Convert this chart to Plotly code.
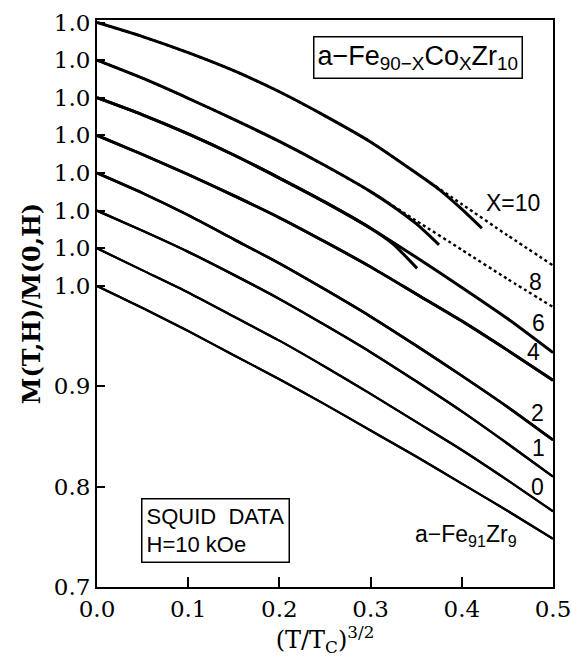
import plotly.graph_objects as go

# x values: (T/Tc)^(3/2)
T32 = [0.0, 0.05, 0.10, 0.15, 0.20, 0.25, 0.30, 0.35, 0.40, 0.45, 0.50]

# Co content x of each curve (top to bottom); last curve is a-Fe91Zr9
CURVE_NAMES = ["x=10", "x=8", "x=6", "x=4", "x=2", "x=1", "x=0", "a-Fe91Zr9"]
CURVE_LABELS = ["X=10", "8", "6", "4", "2", "1", "0", "a\u2212Fe<sub>91</sub>Zr<sub>9</sub>"]

# Measured M(T,H)/M(0,H) (SQUID data) for each curve
M_DATA = [
    [1.000, 0.986, 0.970, 0.952, 0.931, 0.907, 0.881, 0.850, 0.819, 0.788, 0.758],  # x=10
    [1.000, 0.982, 0.962, 0.941, 0.919, 0.895, 0.869, 0.840, 0.811, 0.782, 0.754],  # x=8
    [1.000, 0.983, 0.964, 0.943, 0.920, 0.896, 0.870, 0.841, 0.811, 0.780, 0.746],  # x=6
    [1.000, 0.981, 0.961, 0.940, 0.918, 0.894, 0.869, 0.842, 0.815, 0.786, 0.756],  # x=4
    [1.000, 0.980, 0.958, 0.934, 0.910, 0.884, 0.857, 0.828, 0.798, 0.767, 0.734],  # x=2
    [1.000, 0.980, 0.959, 0.936, 0.912, 0.886, 0.859, 0.830, 0.800, 0.768, 0.735],  # x=1
    [1.000, 0.978, 0.956, 0.932, 0.908, 0.882, 0.855, 0.827, 0.799, 0.769, 0.738],  # x=0
    [1.000, 0.978, 0.955, 0.931, 0.907, 0.882, 0.856, 0.830, 0.803, 0.776, 0.748],  # Fe91Zr9
]

# Spin-wave fits (solid lines); the three top fits end before 0.5
FIT_T = [
    [0.0, 0.05, 0.10, 0.15, 0.20, 0.25, 0.30, 0.35, 0.376, 0.40, 0.422],
    [0.0, 0.05, 0.10, 0.15, 0.20, 0.25, 0.30, 0.325, 0.35, 0.375],
    [0.0, 0.05, 0.10, 0.15, 0.20, 0.25, 0.30, 0.325, 0.351],
    T32, T32, T32, T32, T32,
]
FIT_M = [
    [1.000, 0.986, 0.970, 0.952, 0.931, 0.907, 0.881, 0.850, 0.833, 0.814, 0.795],
    [1.000, 0.982, 0.962, 0.941, 0.919, 0.895, 0.869, 0.854, 0.837, 0.816],
    [1.000, 0.983, 0.964, 0.943, 0.920, 0.896, 0.870, 0.854, 0.830],
    M_DATA[3], M_DATA[4], M_DATA[5], M_DATA[6], M_DATA[7],
]

# vertical shift of each curve (in units of the offset step)
OFFSET_STEP = 0.0375
OFFSET_INDEX = [7, 6, 5, 4, 3, 2, 1, 0]

LINE_WIDTHS = [3, 3, 3, 2.8, 2.6, 2.4, 2.2, 2.2]
DATA_DASH = ["dot", "dot", "solid", "solid", "solid", "solid", "solid", "solid"]

# label positions (data coords)
LABEL_X = [0.456, 0.481, 0.484, 0.479, 0.4825, 0.4836, 0.4825, 0.405]
LABEL_Y = [1.083, 1.004, 0.963, 0.934, 0.8735, 0.8386, 0.7997, 0.7518]

Y_TICKVALS = [0.7, 0.8, 0.9] + [1.0 + i * OFFSET_STEP for i in range(8)]
Y_TICKTEXT = ["0.7", "0.8", "0.9"] + ["1.0"] * 8
X_TICKVALS = [0.0, 0.1, 0.2, 0.3, 0.4, 0.5]
X_TICKTEXT = ["0.0", "0.1", "0.2", "0.3", "0.4", "0.5"]

fig = go.Figure()

for i in range(len(CURVE_NAMES)):
    off = OFFSET_INDEX[i] * OFFSET_STEP
    # data
    fig.add_trace(go.Scatter(
        x=T32, y=[m + off for m in M_DATA[i]], mode="lines",
        line=dict(color="black", width=2.4 if DATA_DASH[i] == "dot" else LINE_WIDTHS[i],
                  dash=DATA_DASH[i], shape="spline", smoothing=0.6),
        name=CURVE_NAMES[i] + " data", showlegend=False, hoverinfo="skip"))
    # fit: solid
    fig.add_trace(go.Scatter(
        x=FIT_T[i], y=[m + off for m in FIT_M[i]], mode="lines",
        line=dict(color="black", width=LINE_WIDTHS[i], shape="spline", smoothing=0.6),
        name=CURVE_NAMES[i] + " fit", showlegend=False, hoverinfo="skip"))

sans = "Liberation Sans, Arial, sans-serif"
serif = "DejaVu Serif, serif"

annotations = []
for i, lab in enumerate(CURVE_LABELS):
    annotations.append(dict(x=LABEL_X[i], y=LABEL_Y[i], xref="x", yref="y",
                            text=lab, showarrow=False,
                            font=dict(family=sans, size=23, color="black")))

annotations.append(dict(
    x=0.352, y=1.2274, xref="x", yref="y",
    text="a\u2212Fe<sub>90\u2212X</sub>Co<sub>X</sub>Zr<sub>10</sub>",
    showarrow=False, font=dict(family=sans, size=27, color="black"),
    bordercolor="black", borderwidth=1.5, borderpad=3, bgcolor="white"))

annotations.append(dict(
    x=0.1294, y=0.7568, xref="x", yref="y",
    text="SQUID  DATA<br>H=10 kOe", align="left",
    showarrow=False, font=dict(family=sans, size=22, color="black"),
    bordercolor="black", borderwidth=1.5, borderpad=4, bgcolor="white"))

fig.update_layout(
    width=572, height=662,
    margin=dict(l=97, r=19, t=20, b=75),
    paper_bgcolor="white", plot_bgcolor="white",
    showlegend=False,
    annotations=annotations,
    xaxis=dict(
        range=[0, 0.5], tickvals=X_TICKVALS, ticktext=X_TICKTEXT,
        ticks="inside", ticklen=10, tickwidth=2, tickcolor="black",
        showline=True, linecolor="black", linewidth=2, mirror=True,
        showgrid=False, zeroline=False, automargin=False,
        tickfont=dict(family=serif, size=23, color="black"),
        title=dict(text="(T/T<sub>C</sub>)<sup>3/2</sup>",
                   font=dict(family=serif, size=24, color="black"), standoff=4),
    ),
    yaxis=dict(
        range=[0.7, 1.265], tickvals=Y_TICKVALS, ticktext=Y_TICKTEXT,
        ticks="inside", ticklen=8, tickwidth=2, tickcolor="black",
        showline=True, linecolor="black", linewidth=2, mirror=True,
        showgrid=False, zeroline=False, automargin=False,
        tickfont=dict(family=serif, size=23, color="black"),
        title=dict(text="<b>M(T,H)/M(0,H)</b>",
                   font=dict(family=serif, size=24, color="black"), standoff=6),
    ),
)

fig.write_html("out.html")
